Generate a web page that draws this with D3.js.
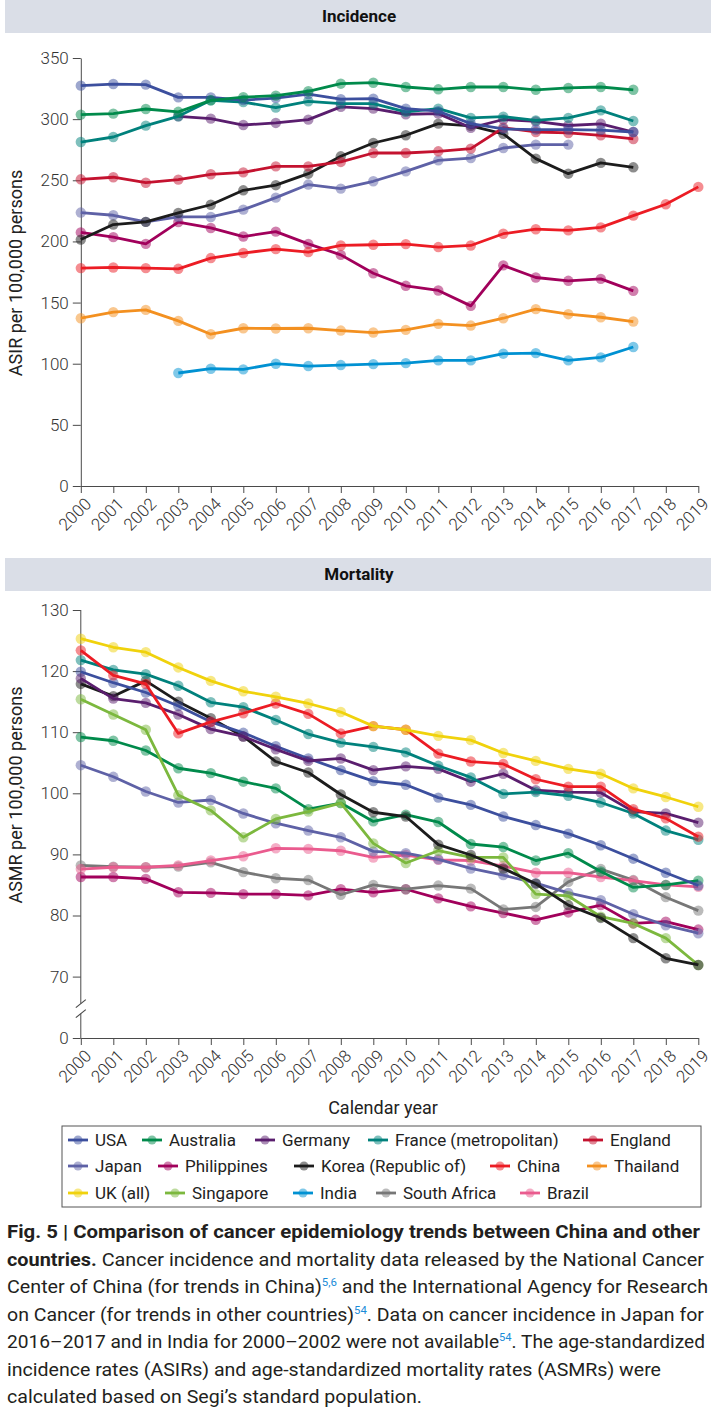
<!DOCTYPE html>
<html><head><meta charset="utf-8">
<script src="https://cdn.jsdelivr.net/npm/d3@7"></script>
<style>
body{margin:0;background:#fff;}
svg{display:block;font-family:Roboto,"Open Sans",sans-serif;}
</style></head><body>
<svg id="chart" width="720" height="1419"></svg>
<script>
// ---------------- DATA ----------------
const years = [2000,2001,2002,2003,2004,2005,2006,2007,2008,2009,2010,2011,2012,2013,2014,2015,2016,2017,2018,2019];
const countries = ["USA","Australia","Germany","France (metropolitan)","England","Japan","Philippines","Korea (Republic of)","China","Thailand","UK (all)","Singapore","India","South Africa","Brazil"];
const incTicks = [0,50,100,150,200,250,300,350];
const morTicks = [0,70,80,90,100,110,120,130];

// Incidence (ASIR per 100,000), 2000..2019, null = not available
const incUSA         = [327.4,328.7,328.2,317.8,317.8,315.6,317.2,320.5,316.3,316.8,308.6,306.5,296.3,292.0,291.4,291.4,291.0,289.5,null,null];
const incAustralia   = [303.7,304.5,308.3,306.0,315.4,318.0,319.2,322.8,329.0,329.8,326.3,324.4,326.3,326.3,324.0,325.5,326.3,324.0,null,null];
const incGermany     = [null,null,null,302.3,300.4,295.2,296.9,299.6,310.0,308.6,304.0,304.5,292.9,299.7,298.1,294.8,296.2,289.5,null,null];
const incFrance      = [281.3,285.4,294.7,302.3,315.4,314.0,309.4,314.6,312.7,312.7,306.0,308.6,301.0,302.0,299.0,301.0,307.2,298.5,null,null];
const incEngland     = [250.8,252.5,248.0,250.5,254.9,256.5,261.4,261.4,265.0,272.3,272.3,273.7,275.9,293.0,289.5,288.7,286.8,283.8,null,null];
const incJapan       = [223.6,221.4,216.0,220.0,220.0,226.0,235.8,246.5,243.2,249.2,257.3,266.3,268.2,276.4,279.2,279.2,null,null,null,null];
const incPhilippines = [207.4,203.5,198.0,215.8,211.0,204.0,208.0,198.0,189.0,174.0,163.7,159.9,147.3,180.4,170.5,167.8,169.4,159.6,null,null];
const incKorea       = [201.5,213.8,216.0,223.3,230.0,241.8,246.0,255.4,269.6,280.5,286.8,296.3,294.5,288.0,267.7,255.4,264.2,260.6,null,null];
const incChina       = [178.2,178.7,178.2,177.6,186.4,190.5,193.7,191.3,196.7,197.3,197.8,195.4,196.7,206.3,210.0,209.0,211.5,221.1,230.4,244.6];
const incThailand    = [137.2,142.2,144.0,135.0,124.1,129.0,128.8,129.0,127.1,125.5,127.7,132.6,131.2,137.2,144.6,140.5,138.0,134.5,null,null];
const incIndia       = [null,null,null,92.4,95.9,95.4,100.0,98.1,98.9,99.7,100.5,102.7,102.7,108.2,108.7,102.7,105.2,113.7,null,null];

// Mortality (ASMR per 100,000), 2000..2019
const morUSA          = [119.9,118.1,116.5,114.3,111.7,109.9,107.7,105.7,103.8,102.0,101.4,99.3,98.1,96.2,94.8,93.4,91.5,89.3,87.0,84.9];
const morAustralia    = [109.2,108.6,107.0,104.1,103.3,101.9,100.8,97.4,98.4,95.4,96.5,95.3,91.7,91.2,89.0,90.2,87.2,84.6,85.0,85.7];
const morGermany      = [118.8,115.5,114.8,112.9,110.5,109.3,107.2,105.3,105.7,103.8,104.4,104.0,101.9,103.2,100.5,100.2,100.1,97.0,96.7,95.2];
const morFrance       = [121.8,120.2,119.5,117.6,114.9,114.1,112.0,109.7,108.3,107.6,106.7,104.5,102.6,99.9,100.2,99.6,98.5,96.7,93.9,92.4];
const morJapan        = [104.6,102.7,100.3,98.5,98.9,96.7,95.1,93.9,92.8,90.5,90.2,89.2,87.7,86.6,85.3,83.7,82.5,80.2,78.4,77.1];
const morPhilippines  = [86.3,86.3,86.0,83.8,83.7,83.5,83.5,83.3,84.3,83.8,84.3,82.8,81.5,80.4,79.3,80.5,81.7,78.7,79.0,77.7];
const morKorea        = [117.9,115.9,118.4,115.0,112.3,109.3,105.2,103.4,99.8,96.9,96.2,91.6,89.9,87.7,85.2,81.7,79.6,76.3,73.0,71.9];
const morChina        = [123.4,119.3,117.9,109.8,111.7,113.1,114.7,113.0,109.8,111.0,110.4,106.5,105.2,104.8,102.3,101.1,101.1,97.4,95.9,92.9];
const morUK           = [125.3,123.9,123.1,120.6,118.4,116.7,115.8,114.7,113.3,111.0,110.4,109.4,108.7,106.6,105.3,104.0,103.2,100.8,99.4,97.8];
const morSingapore    = [115.4,112.9,110.4,99.7,97.2,92.8,95.8,97.0,98.4,91.8,88.6,90.6,89.5,89.5,83.5,83.2,79.8,78.7,76.3,71.9];
const morSouthAfrica  = [88.2,88.0,87.9,88.0,88.7,87.1,86.1,85.8,83.4,85.0,84.3,84.9,84.4,81.0,81.4,85.5,87.6,85.8,83.0,80.8];
const morBrazil       = [87.6,87.9,87.9,88.2,89.0,89.7,91.0,90.9,90.6,89.5,89.9,89.1,89.0,88.1,87.0,87.0,86.3,85.7,85.0,84.7];

// ---------------- STYLE ----------------
const palette = {
  "USA":"#3c4f9e","Australia":"#008a4b","Germany":"#5a1e6e","France (metropolitan)":"#00817c",
  "England":"#c4122f","Japan":"#5e61a6","Philippines":"#a1005b","Korea (Republic of)":"#1c1c1c",
  "China":"#ec1c24","Thailand":"#f39020","UK (all)":"#f0d20c","Singapore":"#7cb83e",
  "India":"#0091d2","South Africa":"#777777","Brazil":"#ea5b8e"
};

const incidence = [
  ["Thailand",incThailand],["India",incIndia],["Philippines",incPhilippines],["China",incChina],
  ["Japan",incJapan],["Korea (Republic of)",incKorea],["England",incEngland],["Germany",incGermany],
  ["France (metropolitan)",incFrance],["USA",incUSA],["Australia",incAustralia]
];
const mortality = [
  ["Philippines",morPhilippines],["South Africa",morSouthAfrica],["Brazil",morBrazil],["Japan",morJapan],
  ["Australia",morAustralia],["Singapore",morSingapore],["Korea (Republic of)",morKorea],["USA",morUSA],
  ["Germany",morGermany],["France (metropolitan)",morFrance],["China",morChina],["UK (all)",morUK]
];

const svg = d3.select("#chart");
const axisColor = "#4a4a4a";
const tickFont = 17;

const x = d3.scaleLinear().domain([2000,2019]).range([80.8,698.3]);
const yI = d3.scaleLinear().domain([0,350]).range([486,58]);
const yM = d3.scaleLinear().domain([0,70,130]).range([1038,976.6,610]);

function header(y0, label){
  svg.append("rect").attr("x",5).attr("y",y0).attr("width",706).attr("height",33).attr("fill","#dadee7");
  svg.append("text").attr("x",359).attr("y",y0+22).attr("text-anchor","middle")
    .attr("font-weight",700).attr("font-size",17).attr("fill","#111").text(label);
}
header(0,"Incidence");
header(558,"Mortality");

function styleAxis(g){
  g.selectAll("path,line").attr("stroke",axisColor).attr("stroke-width",1);
  g.selectAll("text").attr("fill","#333").attr("font-size",tickFont).attr("font-weight",300)
    .attr("font-family","Roboto, 'Open Sans', sans-serif");
}

function xAxis(y0){
  const g = svg.append("g").attr("transform",`translate(0,${y0})`)
    .call(d3.axisBottom(x).tickValues(years).tickFormat(d3.format("d")).tickSize(7).tickSizeOuter(0));
  styleAxis(g);
  g.selectAll(".tick text").attr("x",0).attr("y",0).attr("dy",0)
    .attr("transform","translate(11,19) rotate(-45)").style("text-anchor","end");
}

function yAxis(scale, ticks, broken){
  const g = svg.append("g").attr("transform",`translate(${x(2000)},0)`)
    .call(d3.axisLeft(scale).tickValues(ticks).tickSize(8).tickPadding(4).tickSizeOuter(0));
  styleAxis(g);
  if(broken){
    g.select(".domain").remove();
    const yb1 = scale(70)+27, yb2 = scale(70)+37;
    g.append("line").attr("x1",0).attr("x2",0).attr("y1",scale(130)).attr("y2",yb1).attr("stroke",axisColor);
    g.append("line").attr("x1",0).attr("x2",0).attr("y1",yb2).attr("y2",scale(0)).attr("stroke",axisColor);
    [yb1,yb2].forEach(yy=>{
      g.append("line").attr("x1",-5).attr("x2",5).attr("y1",yy+4).attr("y2",yy-4).attr("stroke",axisColor).attr("stroke-width",1.2);
    });
  }
}

function drawSeries(list, yScale){
  const line = d3.line().defined(d=>d.v!=null).x(d=>x(d.year)).y(d=>yScale(d.v));
  list.forEach(([name, vals])=>{
    const pts = years.map((yr,i)=>({year:yr, v:vals[i]}));
    const col = palette[name];
    const g = svg.append("g");
    g.append("path").datum(pts).attr("d",line).attr("fill","none").attr("stroke",col)
      .attr("stroke-width",2.8).attr("stroke-linejoin","round");
    g.selectAll("circle").data(pts.filter(d=>d.v!=null)).join("circle")
      .attr("cx",d=>x(d.year)).attr("cy",d=>yScale(d.v)).attr("r",5.2)
      .attr("fill",col).attr("fill-opacity",0.5);
  });
}

// Incidence panel
yAxis(yI, incTicks, false);
xAxis(486);
drawSeries(incidence, yI);
svg.append("text").attr("transform","translate(22,273) rotate(-90)").attr("text-anchor","middle")
  .attr("font-size",18).attr("fill","#222").text("ASIR per 100,000 persons");

// Mortality panel
yAxis(yM, morTicks, true);
xAxis(1038);
drawSeries(mortality, yM);
svg.append("text").attr("transform","translate(22,795) rotate(-90)").attr("text-anchor","middle")
  .attr("font-size",18).attr("fill","#222").text("ASMR per 100,000 persons");
svg.append("text").attr("x",383).attr("y",1114).attr("text-anchor","middle")
  .attr("font-size",18).attr("fill","#222").text("Calendar year");

// Legend
svg.append("rect").attr("x",62).attr("y",1126).attr("width",639).attr("height",81)
  .attr("fill","none").attr("stroke","#555").attr("stroke-width",1);
const legendRows = [
  [["USA",95],["Australia",169],["Germany",282],["France (metropolitan)",395],["England",610]],
  [["Japan",95],["Philippines",185],["Korea (Republic of)",321],["China",517],["Thailand",614]],
  [["UK (all)",95],["Singapore",192],["India",320],["South Africa",403],["Brazil",547]]
];
const rowY = [1140,1166,1193];
legendRows.forEach((row,ri)=>{
  row.forEach(([name,tx])=>{
    const cy = rowY[ri], col = palette[name];
    svg.append("line").attr("x1",tx-27).attr("x2",tx-7).attr("y1",cy).attr("y2",cy)
      .attr("stroke",col).attr("stroke-width",2.8);
    svg.append("circle").attr("cx",tx-17).attr("cy",cy).attr("r",4.5).attr("fill",col).attr("fill-opacity",0.5);
    svg.append("text").attr("x",tx).attr("y",cy+6).attr("font-size",17).attr("fill","#222").text(name);
  });
});

// Caption
const captionLines = [
  [{t:"Fig. 5 | Comparison of cancer epidemiology trends between China and other", b:true}],
  [{t:"countries.", b:true},{t:" Cancer incidence and mortality data released by the National Cancer"}],
  [{t:"Center of China (for trends in China)"},{t:"5,6",sup:true},{t:" and the International Agency for Research"}],
  [{t:"on Cancer (for trends in other countries)"},{t:"54",sup:true},{t:". Data on cancer incidence in Japan for"}],
  [{t:"2016–2017 and in India for 2000–2002 were not available"},{t:"54",sup:true},{t:". The age-standardized"}],
  [{t:"incidence rates (ASIRs) and age-standardized mortality rates (ASMRs) were"}],
  [{t:"calculated based on Segi’s standard population."}]
];
const captionWidths = [693,697,701,697,698,654,415];
captionLines.forEach((parts,i)=>{
  const t = svg.append("text").attr("x",7).attr("y",1238+i*27.5).attr("font-size",19).attr("fill","#231f20")
    .attr("textLength",captionWidths[i]).attr("lengthAdjust","spacingAndGlyphs");
  let raised = false;
  parts.forEach(p=>{
    const s = t.append("tspan").text(p.t);
    if(p.b) s.attr("font-weight",700);
    if(p.sup){ s.attr("font-size",11).attr("dy",-7).attr("fill","#1a8cd8"); raised = true; }
    else if(raised){ s.attr("dy",7); raised = false; }
  });
});
</script>
</body></html>
